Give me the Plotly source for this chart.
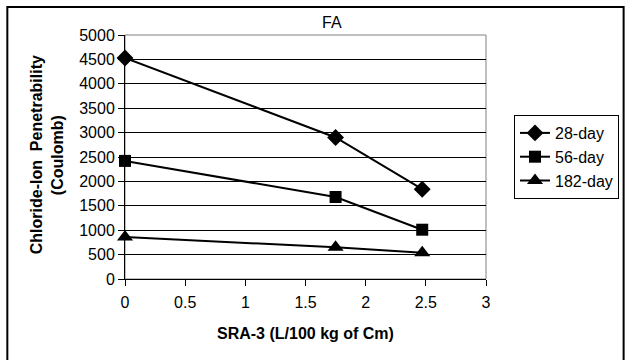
import plotly.graph_objects as go

# SRA-3 dosage (L/100 kg of cementitious material)
sra_dose = [0, 1.75, 2.47]

# Chloride-ion penetrability (Coulomb) at each age
day28 = [4530, 2900, 1840]
day56 = [2420, 1680, 1010]
day182 = [860, 650, 540]

series = [
    ("28-day", day28, "diamond", 13),
    ("56-day", day56, "square", 12),
    ("182-day", day182, "triangle-up", 14),
]

x_ticks = [0, 0.5, 1, 1.5, 2, 2.5, 3]
y_ticks = list(range(0, 5001, 500))

FONT = "Liberation Sans, Arial, sans-serif"
FS = 16

fig = go.Figure()
for name, vals, sym, size in series:
    fig.add_trace(go.Scatter(
        x=sra_dose, y=vals, name=name, mode="lines+markers",
        line=dict(color="black", width=2),
        marker=dict(symbol=sym, size=size, color="black"),
        cliponaxis=False,
    ))

L, R, T, B = 125, 143, 35, 81
W, H = 630, 360
pw, ph = W - L - R, H - T - B

def px_x(p):
    return (p - L) / pw

def px_y(p):
    return (H - B - p) / ph

fig.update_layout(
    width=W, height=H,
    margin=dict(l=L, r=R, t=T, b=B),
    paper_bgcolor="white", plot_bgcolor="white",
    font=dict(family=FONT, size=FS, color="black"),
    showlegend=True,
    legend=dict(
        x=px_x(514), y=px_y(115), xanchor="left", yanchor="top",
        bordercolor="black", borderwidth=1, bgcolor="white",
        font=dict(family=FONT, size=FS, color="black"),
        tracegroupgap=0, itemwidth=30,
    ),
    xaxis=dict(
        range=[0, 3], tickvals=x_ticks, ticktext=[str(v) for v in x_ticks],
        showgrid=False, zeroline=False,
        showline=True, linecolor="black", linewidth=1,
        ticks="outside", ticklen=6, tickcolor="black",
        ticklabelstandoff=3,
        tickfont=dict(family=FONT, size=FS, color="black"),
    ),
    yaxis=dict(
        range=[0, 5000], tickvals=y_ticks, ticktext=[str(v) for v in y_ticks],
        showgrid=True, gridcolor="black", gridwidth=1, zeroline=False,
        showline=True, linecolor="black", linewidth=1,
        ticks="outside", ticklen=6, tickcolor="black",
        tickfont=dict(family=FONT, size=FS, color="black"),
    ),
    shapes=[
        # plot-area frame
        dict(type="rect", xref="paper", yref="paper", x0=0, x1=1, y0=0, y1=1,
             line=dict(color="#808080", width=1), layer="below"),
        # chart-area frame
        dict(type="rect", xref="paper", yref="paper",
             x0=px_x(7), x1=px_x(625), y0=px_y(380), y1=px_y(7),
             line=dict(color="black", width=2), layer="below"),
    ],
    annotations=[
        dict(text="FA", xref="paper", yref="paper", x=px_x(333), y=px_y(22),
             showarrow=False, xanchor="center", yanchor="middle",
             font=dict(family=FONT, size=FS, color="black")),
        dict(text="<b>Chloride-Ion  Penetrability</b>", xref="paper", yref="paper",
             x=px_x(36), y=px_y(155), textangle=-90, showarrow=False,
             xanchor="center", yanchor="middle",
             font=dict(family=FONT, size=FS, color="black")),
        dict(text="<b>(Coulomb)</b>", xref="paper", yref="paper",
             x=px_x(57), y=px_y(155), textangle=-90, showarrow=False,
             xanchor="center", yanchor="middle",
             font=dict(family=FONT, size=FS, color="black")),
        dict(text="<b>SRA-3 (L/100 kg of Cm)</b>", xref="paper", yref="paper",
             x=px_x(306), y=px_y(333), showarrow=False,
             xanchor="center", yanchor="middle",
             font=dict(family=FONT, size=FS, color="black")),
    ],
)

fig.write_html("out.html")
